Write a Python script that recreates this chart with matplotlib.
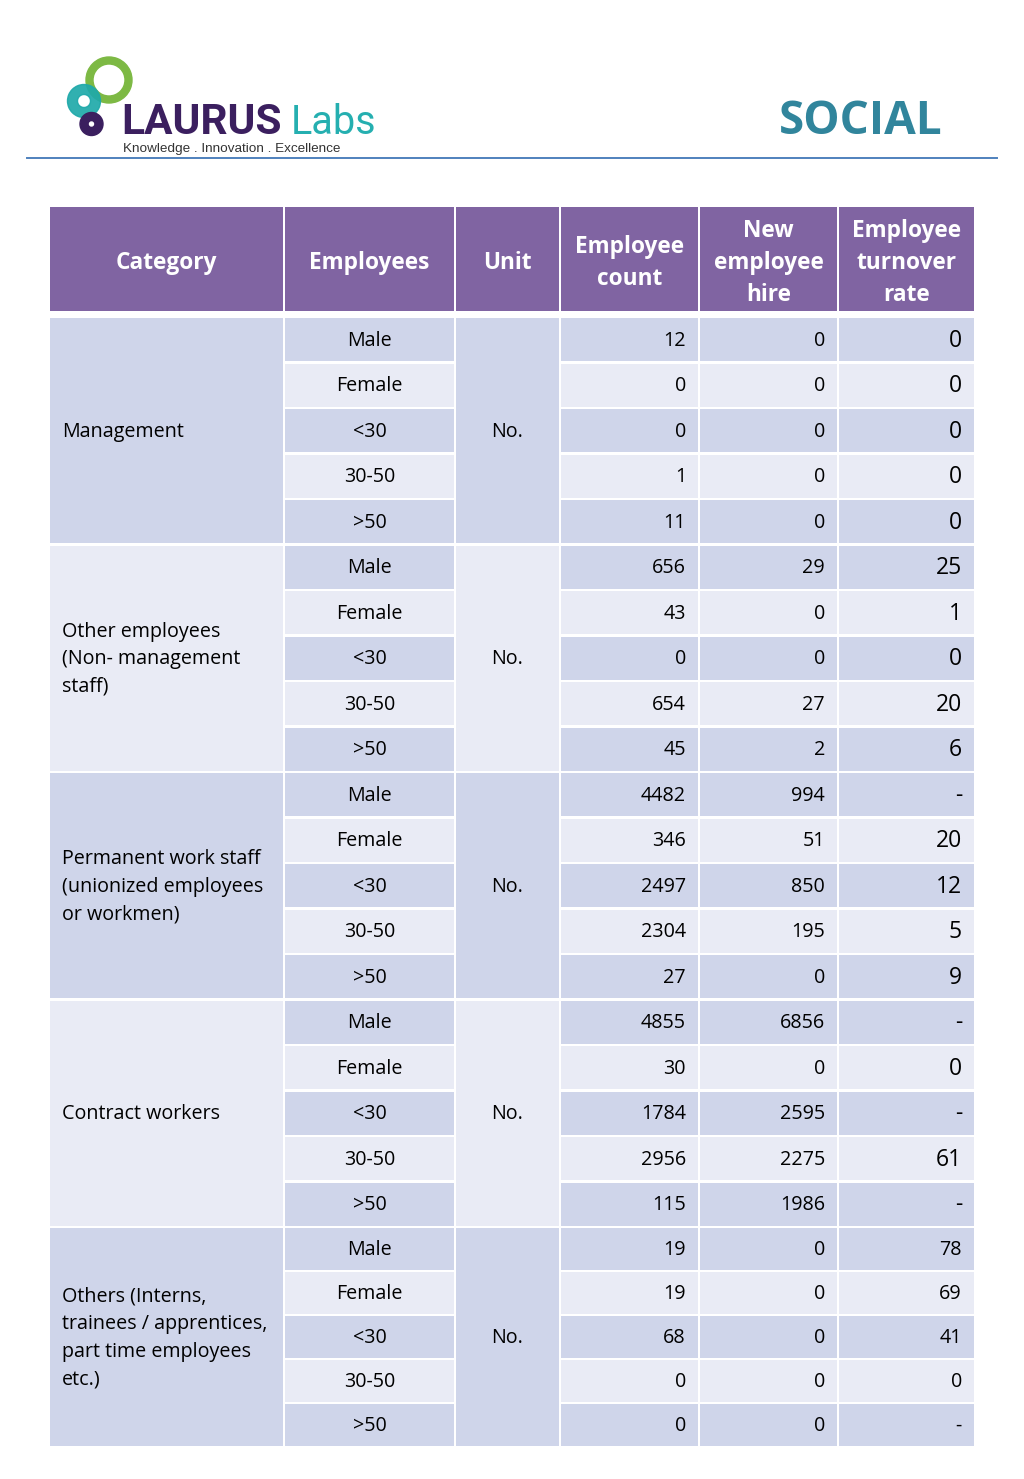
import matplotlib
matplotlib.use("Agg")
import matplotlib.pyplot as plt
from matplotlib.patches import Rectangle, Wedge, Circle

# 표 데이터
headers = ["Category", "Employees", "Unit", "Employee\ncount", "New\nemployee\nhire", "Employee\nturnover\nrate"]
categories = ["Management",
              "Other employees\n(Non- management\nstaff)",
              "Permanent work staff\n(unionized employees\nor workmen)",
              "Contract workers",
              "Others (Interns,\ntrainees / apprentices,\npart time employees\netc.)"]
breakdown = ["Male", "Female", "<30", "30-50", ">50"]
unit = "No."
employee_count = [[12, 0, 0, 1, 11],
                  [656, 43, 0, 654, 45],
                  [4482, 346, 2497, 2304, 27],
                  [4855, 30, 1784, 2956, 115],
                  [19, 19, 68, 0, 0]]
new_hire = [[0, 0, 0, 0, 0],
            [29, 0, 0, 27, 2],
            [994, 51, 850, 195, 0],
            [6856, 0, 2595, 2275, 1986],
            [0, 0, 0, 0, 0]]
turnover = [["0", "0", "0", "0", "0"],
            ["25", "1", "0", "20", "6"],
            ["-", "20", "12", "5", "9"],
            ["-", "0", "-", "61", "-"],
            ["78", "69", "41", "0", "-"]]

# 색상
purple = "#8064A2"
dark = "#CFD5EA"
light = "#E9EBF5"
font = "Open Sans"

fig = plt.figure(figsize=(10.24, 14.79), dpi=100)
ax = fig.add_axes([0, 0, 1, 1])
ax.set_xlim(0, 1024)
ax.set_ylim(1479, 0)
ax.axis("off")

# 로고
ax.add_patch(Wedge((109, 80), 23, 0, 360, width=7, color="#7DB944"))
ax.add_patch(Wedge((84, 101), 16.5, 0, 360, width=10, color="#1FA9AA", alpha=0.92))
ax.add_patch(Circle((91.5, 124), 11.5, color="#3B1F5F"))
ax.add_patch(Circle((91.5, 124), 2, color="white"))
ax.text(121, 134, "LAURUS", family="Roboto", weight="bold", fontsize=30.5, color="#3B1F5F", va="baseline")
ax.text(291, 134, "Labs", family="Roboto", fontsize=28.5, color="#25AFB0", va="baseline")
ax.text(123, 149, "Knowledge . Innovation . Excellence", family="Liberation Sans", fontsize=9.7,
        color="#333333", va="center")
ax.text(861, 122, "SOCIAL", family=font, weight="bold", fontsize=33, color="#31859C", ha="center", va="center")
ax.plot([27, 997], [158, 158], color="#4F81BD", lw=1.4)

# 열 경계
col_x = [49, 284, 455, 560, 699, 838, 975]
gap = 1.2
head_top, head_bot = 206, 312
row_top = 317
row_h = [45.5] * 20 + [44] * 5


def cell(x0, x1, y0, y1, color):
    ax.add_patch(Rectangle((x0 + gap, y0 + gap), x1 - x0 - 2 * gap, y1 - y0 - 2 * gap,
                           facecolor=color, edgecolor="none"))


def lines(x, yc, txt, step, **kw):
    parts = txt.split("\n")
    n = len(parts)
    for i, p in enumerate(parts):
        ax.text(x, yc + (i - (n - 1) / 2) * step, p, va="center", family=font, **kw)


# 헤더
for j, h in enumerate(headers):
    cell(col_x[j], col_x[j + 1], head_top, head_bot, purple)
    lines((col_x[j] + col_x[j + 1]) / 2, (head_top + head_bot) / 2 + 4, h, 32,
          ha="center", fontsize=16.3, weight="bold", color="white")

# 행
ys = [row_top]
for h in row_h:
    ys.append(ys[-1] + h)

for g, cat in enumerate(categories):
    g0, g1 = ys[g * 5], ys[g * 5 + 5]
    gcol = dark if g % 2 == 0 else light
    cell(col_x[0], col_x[1], g0, g1, gcol)
    cell(col_x[2], col_x[3], g0, g1, gcol)
    lines(col_x[0] + 13, (g0 + g1) / 2 + 1, cat, 27.5, ha="left", fontsize=14.2, color="black")
    lines((col_x[2] + col_x[3]) / 2, (g0 + g1) / 2 + 1, unit, 27.5, ha="center", fontsize=14.2, color="black")
    for k in range(5):
        r = g * 5 + k
        y0, y1 = ys[r], ys[r + 1]
        yc = (y0 + y1) / 2 + 1
        rc = dark if k % 2 == 0 else light
        for j in [1, 3, 4, 5]:
            cell(col_x[j], col_x[j + 1], y0, y1, rc)
        ax.text((col_x[1] + col_x[2]) / 2, yc, breakdown[k], ha="center", va="center",
                family=font, fontsize=14.2, color="black")
        ax.text(col_x[4] - 13, yc, str(employee_count[g][k]), ha="right", va="center",
                family=font, fontsize=14.2, color="black")
        ax.text(col_x[5] - 13, yc, str(new_hire[g][k]), ha="right", va="center",
                family=font, fontsize=14.2, color="black")
        fs = 16.5 if g < 4 else 14.2
        ax.text(col_x[6] - 13, yc, turnover[g][k], ha="right", va="center",
                family=font, fontsize=fs, color="black")

fig.savefig("out.png", dpi=100)
